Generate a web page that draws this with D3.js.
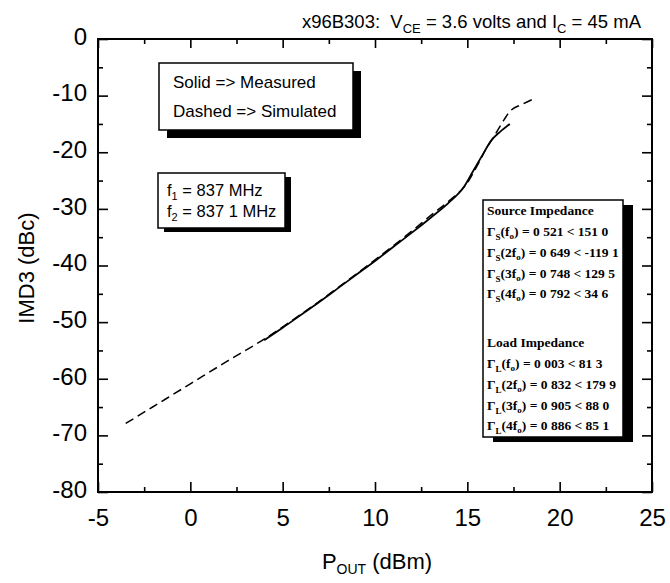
<!DOCTYPE html>
<html><head><meta charset="utf-8">
<script src="https://cdn.jsdelivr.net/npm/d3@7"></script>
<style>
body{margin:0;background:#fff;}
svg{display:block;}
</style></head>
<body>
<svg id="chart" width="670" height="583"></svg>
<script>
// ---- data ----
const measuredX = [4.0, 5, 6, 7, 8, 9, 10, 11, 12, 13, 14, 14.8, 15.3, 15.8, 16.3, 16.8, 17.3];
const measuredY = [-53.2, -51.0, -48.7, -46.4, -44.0, -41.6, -39.2, -36.7, -34.2, -31.6, -28.9, -26.2, -23.4, -20.6, -17.9, -16.3, -15.0];
const simulatedX = [-3.5, -2, 0, 2, 4, 6, 8, 10, 12, 13, 14, 15, 15.5, 16, 16.5, 17, 17.3, 18, 18.7];
const simulatedY = [-67.9, -64.9, -60.9, -56.9, -53.0, -48.6, -43.9, -39.0, -33.9, -31.2, -28.6, -25.4, -22.6, -19.5, -16.9, -14.2, -12.8, -11.5, -10.4];
const xMajorTicks = [-5, 0, 5, 10, 15, 20, 25];
const xMinorTicks = [-2.5, 2.5, 7.5, 12.5, 17.5, 22.5];
const yMajorTicks = [0, -10, -20, -30, -40, -50, -60, -70, -80];
const yMinorTicks = [-5, -15, -25, -35, -45, -55, -65, -75];
const legendLines = ["Solid => Measured", "Dashed => Simulated"];
const freqLines = [["f", "1", " = 837 MHz"], ["f", "2", " = 837 1 MHz"]];
const sourceLines = [["S", "", " = 0 521 < 151 0"], ["S", "2", " = 0 649 < -119 1"], ["S", "3", " = 0 748 < 129 5"], ["S", "4", " = 0 792 < 34 6"]];
const loadLines = [["L", "", " = 0 003 < 81 3"], ["L", "2", " = 0 832 < 179 9"], ["L", "3", " = 0 905 < 88 0"], ["L", "4", " = 0 886 < 85 1"]];

// ---- layout ----
const L = 98, R = 652, T = 39, B = 492;
const svg = d3.select("#chart");
const x = d3.scaleLinear().domain([-5, 25]).range([L, R]);
const y = d3.scaleLinear().domain([-80, 0]).range([B, T]);
const sans = "'Liberation Sans', Arial, sans-serif";
const serif = "'Liberation Serif', 'Times New Roman', serif";
const fmt = d => String(d);

function styleAxis(g) {
  g.select(".domain").remove();
  g.selectAll("line").attr("stroke", "#000").attr("stroke-width", 1.6);
  g.selectAll("text").attr("font-family", sans).attr("font-size", 24).attr("fill", "#000");
}

// bottom axis
svg.append("g").attr("transform", `translate(0,${B})`)
  .call(d3.axisBottom(x).tickValues(xMajorTicks).tickSize(-10).tickPadding(17).tickFormat(fmt))
  .call(styleAxis);
svg.append("g").attr("transform", `translate(0,${B})`)
  .call(d3.axisBottom(x).tickValues(xMinorTicks).tickSize(-5).tickFormat(""))
  .call(styleAxis);
// top axis
svg.append("g").attr("transform", `translate(0,${T})`)
  .call(d3.axisTop(x).tickValues(xMajorTicks).tickSize(-9).tickFormat(""))
  .call(styleAxis);
svg.append("g").attr("transform", `translate(0,${T})`)
  .call(d3.axisTop(x).tickValues(xMinorTicks).tickSize(-5).tickFormat(""))
  .call(styleAxis);
// left axis
const gl = svg.append("g").attr("transform", `translate(${L},0)`)
  .call(d3.axisLeft(y).tickValues(yMajorTicks).tickSize(-10).tickPadding(11).tickFormat(fmt))
  .call(styleAxis);
gl.selectAll("text").attr("dy", "0.22em");
svg.append("g").attr("transform", `translate(${L},0)`)
  .call(d3.axisLeft(y).tickValues(yMinorTicks).tickSize(-5).tickFormat(""))
  .call(styleAxis);
// right axis
svg.append("g").attr("transform", `translate(${R},0)`)
  .call(d3.axisRight(y).tickValues(yMajorTicks).tickSize(-10).tickFormat(""))
  .call(styleAxis);
svg.append("g").attr("transform", `translate(${R},0)`)
  .call(d3.axisRight(y).tickValues(yMinorTicks).tickSize(-5).tickFormat(""))
  .call(styleAxis);

// frame
svg.append("rect").attr("x", L).attr("y", T).attr("width", R - L).attr("height", B - T)
  .attr("fill", "none").attr("stroke", "#000").attr("stroke-width", 2);

// curves
const line = d3.line().x(d => x(d[0])).y(d => y(d[1])).curve(d3.curveMonotoneX);
svg.append("path").datum(simulatedX.map((v, i) => [v, simulatedY[i]]))
  .attr("d", line).attr("fill", "none").attr("stroke", "#000").attr("stroke-width", 1.5)
  .attr("stroke-dasharray", "9,5");
svg.append("path").datum(measuredX.map((v, i) => [v, measuredY[i]]))
  .attr("d", line).attr("fill", "none").attr("stroke", "#000").attr("stroke-width", 1.8);

// title
const title = svg.append("text").attr("x", 641).attr("y", 28).attr("text-anchor", "end")
  .attr("font-family", sans).attr("font-size", 18.5).attr("fill", "#000");
title.append("tspan").text("x96B303:\u00a0\u00a0V");
title.append("tspan").attr("font-size", 13).attr("dy", 5).text("CE");
title.append("tspan").attr("dy", -5).text(" = 3.6 volts and I");
title.append("tspan").attr("font-size", 13).attr("dy", 5).text("C");
title.append("tspan").attr("dy", -5).text(" = 45 mA");

// axis titles
const xl = svg.append("text").attr("x", 377).attr("y", 569).attr("text-anchor", "middle")
  .attr("font-family", sans).attr("font-size", 22).attr("fill", "#000");
xl.append("tspan").text("P");
xl.append("tspan").attr("font-size", 14).attr("dy", 5).text("OUT");
xl.append("tspan").attr("dy", -5).text(" (dBm)");

svg.append("text").attr("transform", "translate(34,268) rotate(-90)").attr("text-anchor", "middle")
  .attr("font-family", sans).attr("font-size", 22).attr("fill", "#000").text("IMD3 (dBc)");

// box helper
function box(x0, y0, w, h, sx, sy) {
  svg.append("rect").attr("x", x0 + sx).attr("y", y0 + sy).attr("width", w).attr("height", h).attr("fill", "#000");
  svg.append("rect").attr("x", x0).attr("y", y0).attr("width", w).attr("height", h)
    .attr("fill", "#fff").attr("stroke", "#000").attr("stroke-width", 1.5);
}

// legend box
box(159, 63, 194, 67, 8, 8);
legendLines.forEach((t, i) => {
  svg.append("text").attr("x", 173).attr("y", 88 + i * 29)
    .attr("font-family", sans).attr("font-size", 17).attr("fill", "#000").text(t);
});

// frequency box
box(158, 173, 127, 55, 6, 4);
freqLines.forEach((t, i) => {
  const tx = svg.append("text").attr("x", 167).attr("y", 196 + i * 21)
    .attr("font-family", sans).attr("font-size", 16.5).attr("fill", "#000");
  tx.append("tspan").text(t[0]);
  tx.append("tspan").attr("font-size", 11).attr("dy", 4).text(t[1]);
  tx.append("tspan").attr("dy", -4).text(t[2]);
});

// impedance box
box(483, 200, 140, 237, 10, 5);
function impText(yy) {
  return svg.append("text").attr("x", 487).attr("y", yy)
    .attr("font-family", serif).attr("font-weight", "bold").attr("font-size", 13.5).attr("fill", "#000");
}
function gammaLine(yy, t) {
  const tx = impText(yy);
  tx.append("tspan").text("\u0393");
  tx.append("tspan").attr("font-size", 9).attr("dy", 4).text(t[0]);
  tx.append("tspan").attr("dy", -4).text("(" + t[1] + "f");
  tx.append("tspan").attr("font-size", 9).attr("dy", 3).text("o");
  tx.append("tspan").attr("dy", -3).text(")" + t[2]);
}
impText(215).text("Source Impedance");
sourceLines.forEach((t, i) => gammaLine(236 + i * 20.8, t));
impText(347).text("Load Impedance");
loadLines.forEach((t, i) => gammaLine(368 + i * 20.8, t));
</script>
</body></html>
